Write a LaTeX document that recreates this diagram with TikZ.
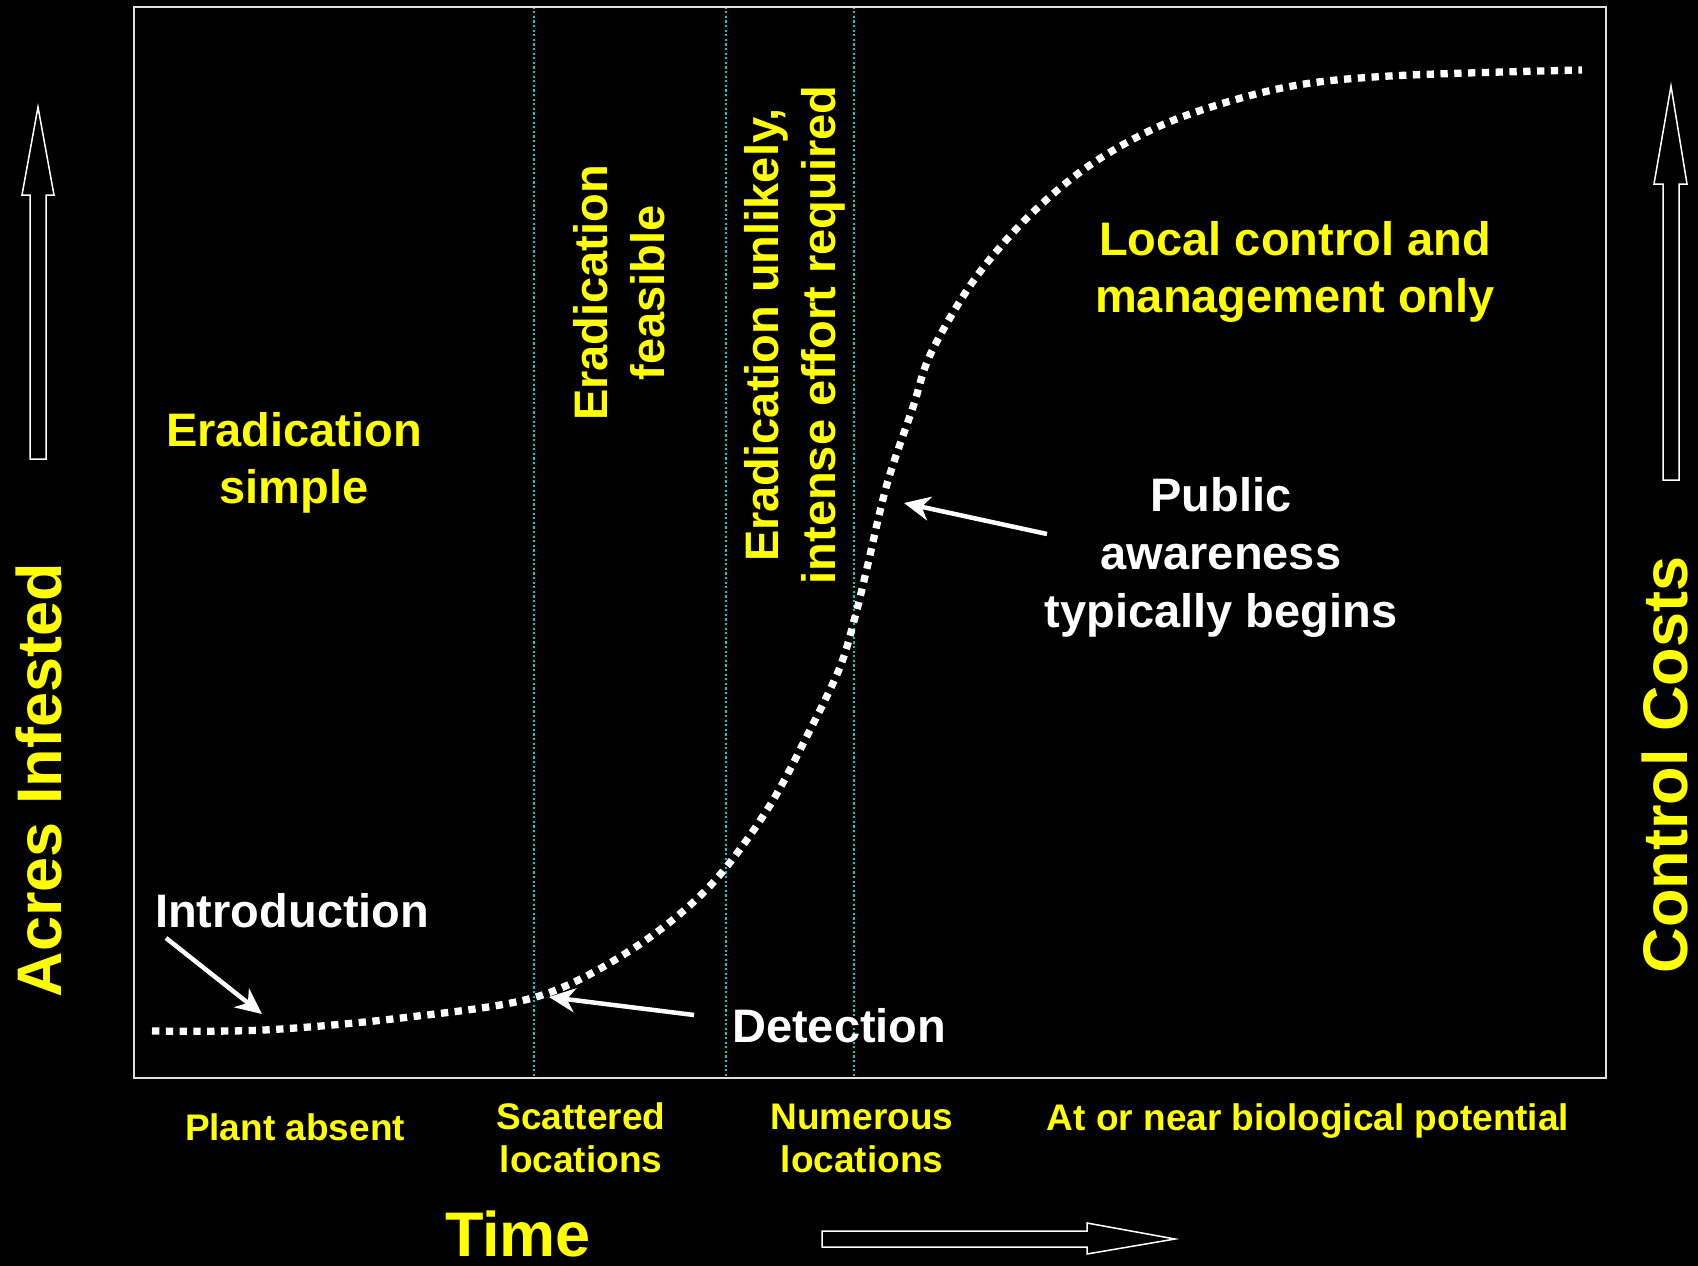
\documentclass[tikz,border=0pt]{standalone}
\usepackage{fontspec}
\setmainfont{Liberation Sans}
\usetikzlibrary{arrows.meta}
\definecolor{zoneyellow}{RGB}{255,255,0}
\definecolor{guidecyan}{RGB}{0,204,204}
\tikzset{
  zone/.style={text=zoneyellow, font=\bfseries\fontsize{47}{57}\selectfont, align=center, inner sep=0pt},
  note/.style={text=white, font=\bfseries\fontsize{47}{58}\selectfont, align=center, inner sep=0pt},
  stage/.style={text=zoneyellow, font=\bfseries\fontsize{37}{43}\selectfont, align=center, inner sep=0pt},
  axislabel/.style={text=zoneyellow, font=\bfseries\fontsize{63}{70}\selectfont, inner sep=0pt},
  guide/.style={guidecyan, line width=2.3pt, dash pattern=on 2.3pt off 2.3pt},
  pointer/.style={white, line width=4.5pt, -{Stealth[length=26pt,width=24pt,inset=8pt]}},
  blockarrow/.style={draw=white, line width=1.5pt, line join=miter},
}
\begin{document}
\begin{tikzpicture}[x=1pt,y=-1pt]
\fill[black] (0,0) rectangle (1698,1266);

% stage boundaries and plot frame
\foreach \x in {534,726,854}
  \draw[guide] (\x,6.5) -- (\x,1078);
\draw[white!88!black, line width=2pt] (134,6.5) rectangle (1606,1078);

% invasion curve
\draw[white, line width=7.3pt, dash pattern=on 7.3pt off 6.5pt]
  plot[smooth, tension=0.55] coordinates {(152,1031) (264,1030) (401,1018) (536,997)
  (631,950) (708,888) (767,810) (810,730) (840,667) (855,617) (867,568) (887,484)
  (913,407) (931,353) (974,280) (1028,217) (1093,163) (1174,120) (1282,88)
  (1390,76) (1582,70)};

% axis arrows
\draw[blockarrow] (38,107) -- (54,195) -- (46,195) -- (46,459) -- (30,459) -- (30,195) -- (22,195) -- cycle;
\draw[blockarrow] (1671,86) -- (1687,184) -- (1679,184) -- (1679,480) -- (1663,480) -- (1663,184) -- (1654,184) -- cycle;
\draw[blockarrow] (1175,1239) -- (1087,1254) -- (1087,1247) -- (822,1247) -- (822,1231) -- (1087,1231) -- (1087,1223) -- cycle;

\node[axislabel, rotate=90, anchor=base] (acres) at (61,780) {Acres Infested};
\node[axislabel, rotate=90, anchor=base] (costs) at (1687,765) {Control Costs};
\node[axislabel, anchor=base] (time) at (518,1256) {Time};

% zones
\node[zone] (simple) at (294,463) {Eradication\\simple};
\node[zone, rotate=90] (feasible) at (619,293) {Eradication\\feasible};
\node[zone, rotate=90] (unlikely) at (795,335) {Eradication unlikely,\\intense effort required};
\node[zone] (local) at (1295,272) {Local control and\\management only};

\node[note] (public) at (1221,557) {Public\\awareness\\typically begins};
\node[note, anchor=base west] (intro) at (155,927) {Introduction};
\node[note, anchor=base west] (detect) at (732,1042) {Detection};

% stages along the time axis
\node[stage, anchor=base] (absent) at (295,1140) {Plant absent};
\node[stage] (scattered) at (581,1138) {Scattered\\locations};
\node[stage] (numerous) at (862,1138) {Numerous\\locations};
\node[stage, anchor=base] (potential) at (1308,1130) {At or near biological potential};

\coordinate (introtail) at (166,938);
\coordinate (introtip) at (262,1014);
\coordinate (detecttail) at (694,1015);
\coordinate (detecttip) at (549,997);
\coordinate (publictail) at (1047,534);
\coordinate (publictip) at (904,503);
\draw[pointer] (introtail) -- (introtip);
\draw[pointer] (detecttail) -- (detecttip);
\draw[pointer] (publictail) -- (publictip);
\end{tikzpicture}
\end{document}
